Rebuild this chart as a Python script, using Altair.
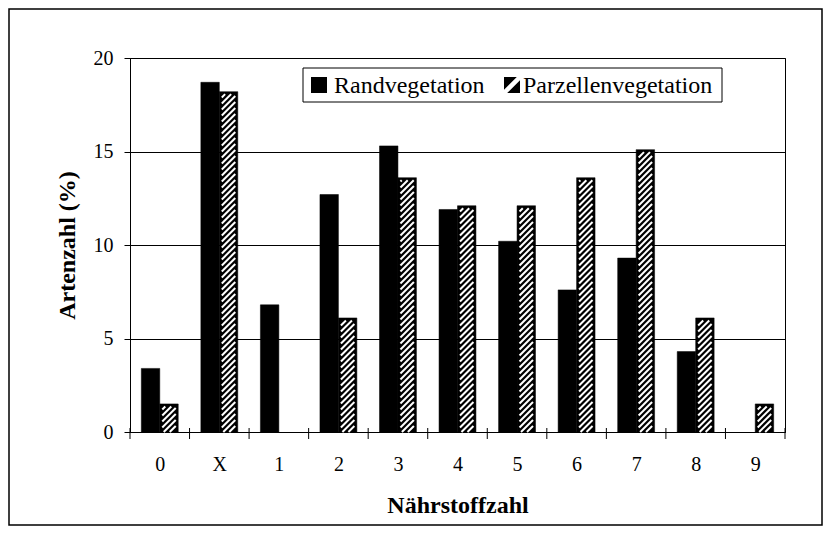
import altair as alt
import pandas as pd

# ---------------- data ----------------
categories = ["0", "X", "1", "2", "3", "4", "5", "6", "7", "8", "9"]
rand_values = [3.4, 18.7, 6.8, 12.7, 15.3, 11.9, 10.2, 7.6, 9.3, 4.3, 0.0]
parz_values = [1.5, 18.2, 0.0, 6.1, 13.6, 12.1, 12.1, 13.6, 15.1, 6.1, 1.5]
series_names = ["Randvegetation", "Parzellenvegetation"]
y_ticks = [0, 5, 10, 15, 20]
x_title = "Nährstoffzahl"
y_title = "Artenzahl (%)"

# ---------------- layout / style ----------------
W, H = 655, 374
FONT = "Liberation Serif"
Y_MAX = 20
BAR_START = {"Randvegetation": 0.19, "Parzellenvegetation": 0.5}
BAR_WIDTH = 0.31
HATCH_PATH = "M-1,-1H0.6L-1,0.6Z M-0.6,1L1,-0.6V1Z"

n = len(categories)
rows = []
for i, c in enumerate(categories):
    for s, vals in zip(series_names, [rand_values, parz_values]):
        rows.append({"idx": i, "cat": c, "serie": s, "value": vals[i]})
bars_df = pd.DataFrame(rows)
bars_df = bars_df[bars_df["value"] > 0].copy()
bars_df["x0"] = bars_df["idx"] + bars_df["serie"].map(BAR_START)
bars_df["x1"] = bars_df["x0"] + BAR_WIDTH

# hatch lines (white diagonal stripes, lower-left to upper-right) derived from the Parzellen values
sx = W / n
sy = H / Y_MAX
inset_x = 2.5 / sx
inset_y = 2.5 / sy
period = 6.0 / sy
hatch_rows = []
for i, v in enumerate(parz_values):
    if v <= 0:
        continue
    xa = i + BAR_START["Parzellenvegetation"] + inset_x
    xb = i + BAR_START["Parzellenvegetation"] + BAR_WIDTH - inset_x
    ylo = 0.0
    yhi = v - inset_y
    rise = (xb - xa) * sx / sy
    b = ylo - rise
    while b < yhi:
        x0_, y0_ = xa, b
        x1_, y1_ = xb, b + rise
        if y0_ < ylo:
            x0_ = xa + (ylo - b) * sy / sx
            y0_ = ylo
        if y1_ > yhi:
            x1_ = xa + (yhi - b) * sy / sx
            y1_ = yhi
        if x1_ - x0_ > 1e-6:
            # (x0, value) is the lower-left end, (x1, value1) the upper-right end
            hatch_rows.append({"x0": x0_, "x1": x1_, "value": y0_, "value1": y1_})
        b += period
hatch_df = pd.DataFrame(hatch_rows)

ticks_df = pd.DataFrame({"x0": list(range(n + 1))})
one = pd.DataFrame({"k": [0]})

label_array = "[" + ",".join("'" + c + "'" for c in categories) + "]"
x_scale = alt.Scale(domain=[0, n], nice=False, zero=False)
y_scale = alt.Scale(domain=[0, Y_MAX], nice=False)

x_axis = alt.Axis(
    values=[i + 0.5 for i in range(n)],
    labelExpr=label_array + "[floor(datum.value)]",
    ticks=False, grid=False, domain=True, domainColor="black",
    labelFont=FONT, labelFontSize=20, labelColor="black", labelPadding=22,
    labelAngle=0,
    title=x_title, titleFont=FONT, titleFontSize=24, titleFontWeight="bold",
    titleColor="black", titleX=W / 2, titleY=80, titleBaseline="alphabetic",
    titleAlign="center",
)
y_axis = alt.Axis(
    values=y_ticks, grid=True, gridColor="black", gridOpacity=1, gridWidth=1,
    tickSize=6, tickColor="black", domainColor="black",
    labelFont=FONT, labelFontSize=20, labelColor="black", labelPadding=11,
    title=y_title, titleFont=FONT, titleFontSize=24, titleFontWeight="bold",
    titleColor="black", titleX=-56, titleY=H / 2, titleAngle=270,
    titleAlign="center", titleBaseline="alphabetic",
)

X = alt.X("x0:Q", scale=x_scale, axis=x_axis)
Y = alt.Y("value:Q", scale=y_scale, axis=y_axis)

frame = alt.Chart(one).mark_rect(fill="white", fillOpacity=0, stroke="black", strokeWidth=1.5).encode(
    x=alt.value(-121), x2=alt.value(W + 37), y=alt.value(-49), y2=alt.value(H + 93)
)

bars = alt.Chart(bars_df).mark_rect(color="black", stroke="black", strokeWidth=0.5).encode(
    x=X, x2="x1:Q", y=Y, y2=alt.datum(0),
)

hatch = alt.Chart(hatch_df).mark_rule(color="white", strokeWidth=2, strokeCap="butt").encode(
    x=X, x2="x1:Q", y=Y, y2="value1:Q",
)

xticks = alt.Chart(ticks_df).mark_rule(color="black", strokeWidth=1).encode(
    x=X, y=alt.value(H - 4), y2=alt.value(H + 7),
)

legend_box = alt.Chart(one).mark_rect(fill="white", stroke="black", strokeWidth=1).encode(
    x=alt.value(173), x2=alt.value(592), y=alt.value(10), y2=alt.value(44)
)
leg_sym1 = alt.Chart(one).mark_point(shape="square", filled=True, color="black", size=256, opacity=1).encode(
    x=alt.value(189), y=alt.value(27)
)
leg_sym2 = alt.Chart(one).mark_point(shape=HATCH_PATH, filled=True, color="black", size=256, opacity=1).encode(
    x=alt.value(382), y=alt.value(27)
)
leg_txt1 = alt.Chart(one).mark_text(font=FONT, fontSize=24, align="left", baseline="middle", color="black").encode(
    x=alt.value(204), y=alt.value(28), text=alt.value(series_names[0])
)
leg_txt2 = alt.Chart(one).mark_text(font=FONT, fontSize=24, align="left", baseline="middle", color="black").encode(
    x=alt.value(393), y=alt.value(28), text=alt.value(series_names[1])
)

chart = alt.layer(
    bars, hatch, xticks, frame, legend_box, leg_sym1, leg_sym2, leg_txt1, leg_txt2
).properties(
    width=W, height=H,
    autosize=alt.AutoSizeParams(type="none"),
    padding={"left": 122, "top": 50, "right": 38, "bottom": 95},
    background="white",
).configure_view(stroke="black", strokeWidth=1)

chart.save("out.html", embed_options={"renderer": "svg", "actions": False})
